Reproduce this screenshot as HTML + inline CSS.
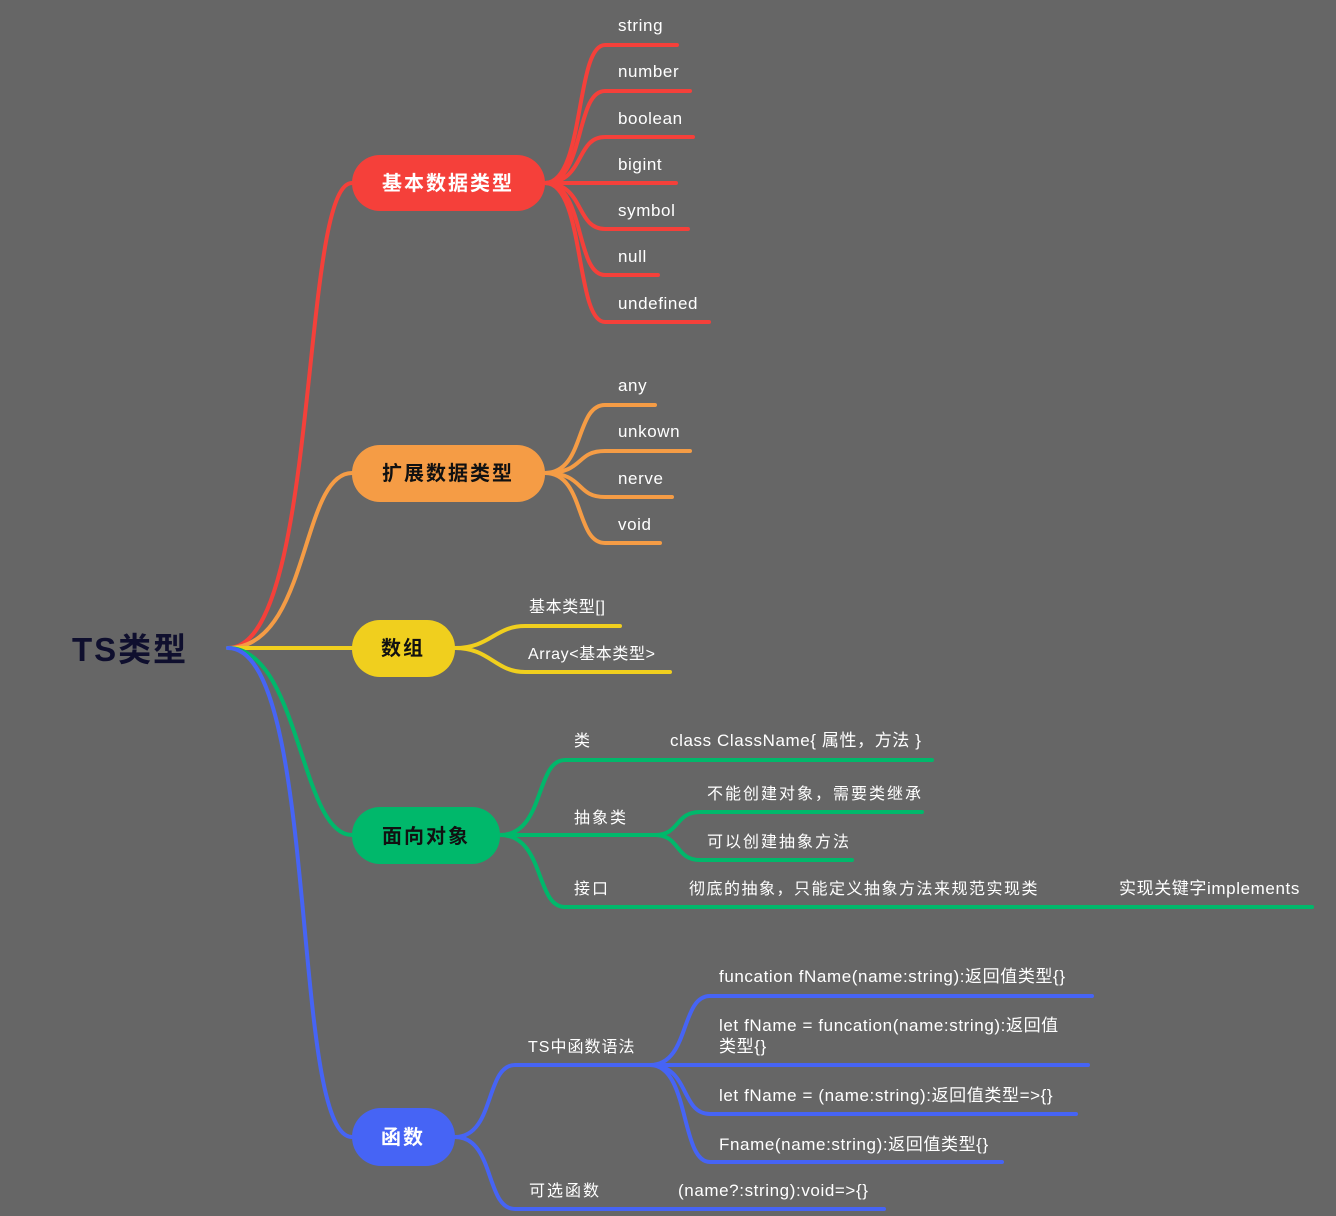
<!DOCTYPE html>
<html><head><meta charset="utf-8"><style>
html,body{margin:0;padding:0;background:#666666;}
svg{display:block}
text{font-family:"Liberation Sans","Noto Sans CJK SC",sans-serif;fill:#fff;font-size:17px;letter-spacing:0.6px}
.n{font-size:20px;font-weight:bold;letter-spacing:2px}
path{fill:none;stroke-width:4;stroke-linecap:round}
</style></head><body>
<svg width="1336" height="1216" viewBox="0 0 1336 1216" xmlns="http://www.w3.org/2000/svg">
<path stroke="#f5403a" d="M228,648 C320,648 300,183 352,183"/>
<path stroke="#f59c45" d="M228,648 C310,648 300,473 352,473"/>
<path stroke="#f0cf1e" d="M228,648 H352"/>
<path stroke="#00b86b" d="M228,648 C300,648 300,835 352,835"/>
<path stroke="#4664f5" d="M228,648 C320,648 290,1137 352,1137"/>
<text x="72" y="661" style="font-size:33px;font-weight:bold;fill:#0f0f2e;letter-spacing:2px">TS类型</text>

<g stroke="#f5403a">
<path d="M545,183 C585,183 575,45 605,45 H677"/>
<path d="M545,183 C585,183 575,91 605,91 H690"/>
<path d="M545,183 C585,183 575,137 605,137 H693"/>
<path d="M545,183 H676"/>
<path d="M545,183 C585,183 575,229 605,229 H688"/>
<path d="M545,183 C585,183 575,275 605,275 H658"/>
<path d="M545,183 C585,183 575,322 605,322 H709"/>
</g>
<rect x="352" y="155" width="193" height="56" rx="28" fill="#f5403a"/>
<text class="n" x="448" y="190" text-anchor="middle">基本数据类型</text>
<g>
<text x="618" y="31">string</text><text x="618" y="77">number</text><text x="618" y="124">boolean</text>
<text x="618" y="170">bigint</text><text x="618" y="216">symbol</text><text x="618" y="262">null</text>
<text x="618" y="309">undefined</text>
</g>

<g stroke="#f59c45">
<path d="M545,473 C585,473 575,405 605,405 H655"/>
<path d="M545,473 C585,473 575,451 605,451 H690"/>
<path d="M545,473 C585,473 575,497 605,497 H672"/>
<path d="M545,473 C585,473 575,543 605,543 H660"/>
</g>
<rect x="352" y="445" width="193" height="57" rx="28" fill="#f59c45"/>
<text class="n" x="448" y="480" text-anchor="middle" style="fill:#111">扩展数据类型</text>
<text x="618" y="391">any</text><text x="618" y="437">unkown</text><text x="618" y="484">nerve</text><text x="618" y="530">void</text>

<g stroke="#f0cf1e">
<path d="M455,648 C490,648 495,626 525,626 H620"/>
<path d="M455,648 C490,648 495,672 525,672 H670"/>
</g>
<rect x="352" y="620" width="103" height="57" rx="28" fill="#f0cf1e"/>
<text class="n" x="403" y="655" text-anchor="middle" style="fill:#111">数组</text>
<text x="529" y="612" style="font-size:16px">基本类型[]</text>
<text x="528" y="659" style="font-size:16px">Array&lt;基本类型&gt;</text>

<g stroke="#00b86b">
<path d="M500,835 C545,835 535,760 565,760 H932"/>
<path d="M500,835 H655"/>
<path d="M500,835 C545,835 535,907 565,907 H1312"/>
<path d="M655,835 C680,835 675,812 700,812 H922"/>
<path d="M655,835 C680,835 675,860 700,860 H852"/>
</g>
<rect x="352" y="807" width="148" height="57" rx="28" fill="#00b86b"/>
<text class="n" x="426" y="843" text-anchor="middle" style="fill:#111">面向对象</text>
<text x="574" y="746" style="font-size:16px">类</text>
<text x="670" y="746">class ClassName{ 属性，方法 }</text>
<text x="574" y="823" style="font-size:16px;letter-spacing:2px">抽象类</text>
<text x="707" y="799" style="font-size:16px;letter-spacing:2px">不能创建对象，需要类继承</text>
<text x="707" y="847" style="font-size:16px;letter-spacing:2px">可以创建抽象方法</text>
<text x="574" y="894" style="font-size:16px;letter-spacing:2px">接口</text>
<text x="689" y="894" style="font-size:16px;letter-spacing:1.5px">彻底的抽象，只能定义抽象方法来规范实现类</text>
<text x="1119" y="894">实现关键字implements</text>

<g stroke="#4664f5">
<path d="M455,1137 C495,1137 485,1065 515,1065 H650"/>
<path d="M455,1137 C495,1137 485,1209 515,1209 H884"/>
<path d="M650,1065 C690,1065 680,996 710,996 H1092"/>
<path d="M650,1065 H1088"/>
<path d="M650,1065 C690,1065 680,1114 710,1114 H1076"/>
<path d="M650,1065 C690,1065 680,1162 710,1162 H1002"/>
</g>
<rect x="352" y="1108" width="103" height="58" rx="29" fill="#4664f5"/>
<text class="n" x="403" y="1144" text-anchor="middle">函数</text>
<text x="528" y="1052" style="font-size:16px;letter-spacing:1px">TS中函数语法</text>
<text x="719" y="982">funcation fName(name:string):返回值类型{}</text>
<text x="719" y="1031">let fName = funcation(name:string):返回值</text>
<text x="719" y="1052">类型{}</text>
<text x="719" y="1101">let fName = (name:string):返回值类型=&gt;{}</text>
<text x="719" y="1150">Fname(name:string):返回值类型{}</text>
<text x="529" y="1196" style="font-size:16px;letter-spacing:2px">可选函数</text>
<text x="678" y="1196">(name?:string):void=&gt;{}</text>
</svg>
</body></html>
